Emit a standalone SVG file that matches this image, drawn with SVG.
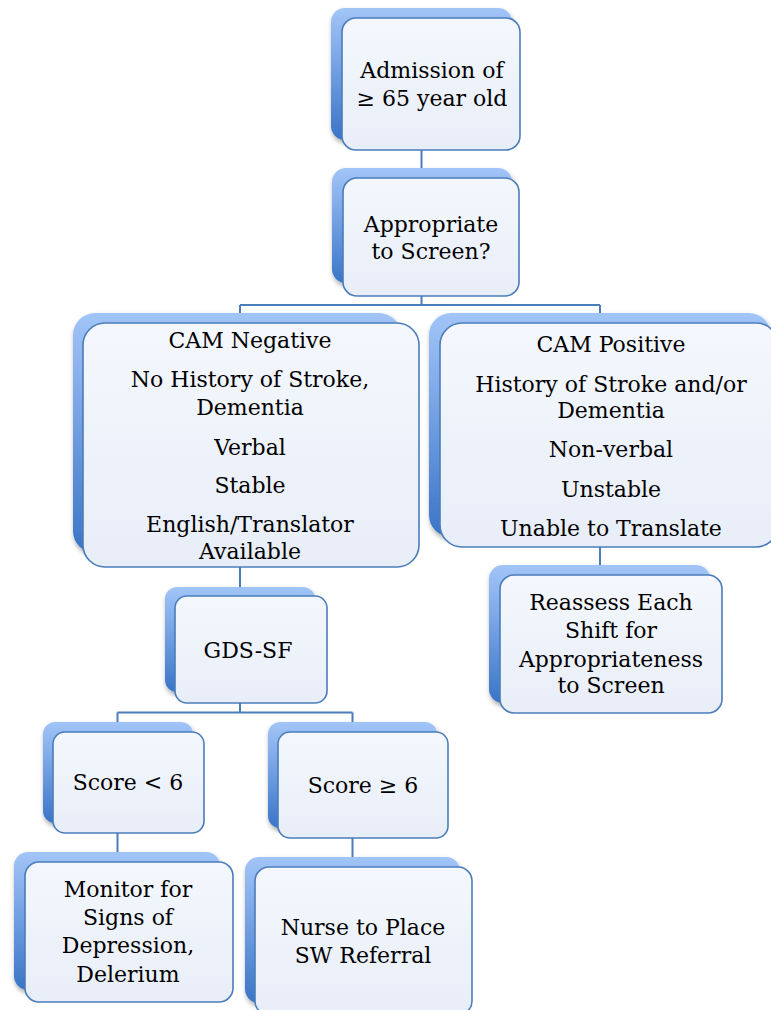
<svg xmlns="http://www.w3.org/2000/svg" width="771" height="1010" viewBox="0 0 771 1010">
<defs>
<linearGradient id="backG" x1="0" y1="0" x2="0" y2="1">
<stop offset="0" stop-color="#A2C5F7"/>
<stop offset="0.35" stop-color="#7FA9E8"/>
<stop offset="1" stop-color="#3A74C6"/>
</linearGradient>
<linearGradient id="frontG" x1="0" y1="0" x2="0" y2="1">
<stop offset="0" stop-color="#F4F7FD"/>
<stop offset="1" stop-color="#E8EEF8"/>
</linearGradient>
<filter id="sh" x="-10%" y="-10%" width="125%" height="130%">
<feDropShadow dx="1" dy="3" stdDeviation="2.5" flood-color="#000" flood-opacity="0.35"/>
</filter>
</defs>
<style>
.back{fill:url(#backG);filter:url(#sh)}
.front{fill:url(#frontG);stroke:#4A7DBA;stroke-width:1.6}
.conn{fill:none;stroke:#4A7DBA;stroke-width:2}
text{font-family:"DejaVu Serif","Liberation Serif",serif;font-size:22px;fill:#000;text-anchor:middle}
</style>
<rect width="771" height="1010" fill="#fff"/>
<g id="connectors">
<path class="conn" d="M421.5,150V178"/>
<path class="conn" d="M421.5,296V305M240,305H600M240,305V313M600,305V313"/>
<path class="conn" d="M240,567V587"/>
<path class="conn" d="M600,547V565"/>
<path class="conn" d="M240,703V712.5M117.5,712.5H352.5M117.5,712.5V722M352.5,712.5V722"/>
<path class="conn" d="M117.5,833V852"/>
<path class="conn" d="M352.5,838V857"/>
</g>
<g id="n-admission">
<rect class="back" x="331" y="8" width="181" height="132" rx="14"/>
<rect class="front" x="342" y="18" width="178" height="132" rx="14"/>
<text x="432" y="78">Admission of</text>
<text x="432" y="106">≥ 65 year old</text>
</g>
<g id="n-appropriate">
<rect class="back" x="332" y="168" width="180" height="115" rx="14"/>
<rect class="front" x="343" y="178" width="176" height="118" rx="14"/>
<text x="431" y="232">Appropriate</text>
<text x="431" y="259">to Screen?</text>
</g>
<g id="n-cam-negative">
<rect class="back" x="73" y="313" width="328" height="240" rx="22"/>
<rect class="front" x="83" y="323" width="336" height="244" rx="22"/>
<text x="250" y="348">CAM Negative</text>
<text x="250" y="387">No History of Stroke,</text>
<text x="250" y="415">Dementia</text>
<text x="250" y="455">Verbal</text>
<text x="250" y="493">Stable</text>
<text x="250" y="532">English/Translator</text>
<text x="250" y="559">Available</text>
</g>
<g id="n-cam-positive">
<rect class="back" x="429" y="313" width="342" height="224" rx="22"/>
<rect class="front" x="440" y="323" width="338" height="224" rx="22"/>
<text x="611" y="352">CAM Positive</text>
<text x="611" y="392">History of Stroke and/or</text>
<text x="611" y="418">Dementia</text>
<text x="611" y="457">Non-verbal</text>
<text x="611" y="497">Unstable</text>
<text x="611" y="536">Unable to Translate</text>
</g>
<g id="n-reassess">
<rect class="back" x="489" y="565" width="221" height="138" rx="14"/>
<rect class="front" x="500" y="575" width="222" height="138" rx="14"/>
<text x="611" y="610">Reassess Each</text>
<text x="611" y="638">Shift for</text>
<text x="611" y="667">Appropriateness</text>
<text x="611" y="693">to Screen</text>
</g>
<g id="n-gds">
<rect class="back" x="165" y="587" width="150" height="105" rx="12"/>
<rect class="front" x="175" y="596" width="152" height="107" rx="12"/>
<text x="248" y="658">GDS-SF</text>
</g>
<g id="n-score-lt">
<rect class="back" x="43" y="722" width="150" height="101" rx="12"/>
<rect class="front" x="53" y="732" width="151" height="101" rx="12"/>
<text x="128" y="790">Score &lt; 6</text>
</g>
<g id="n-score-ge">
<rect class="back" x="268" y="722" width="169" height="106" rx="12"/>
<rect class="front" x="278" y="732" width="170" height="106" rx="12"/>
<text x="363" y="793">Score ≥ 6</text>
</g>
<g id="n-monitor">
<rect class="back" x="14" y="852" width="206" height="138" rx="14"/>
<rect class="front" x="25" y="862" width="208" height="140" rx="14"/>
<text x="128" y="897">Monitor for</text>
<text x="128" y="925">Signs of</text>
<text x="128" y="953">Depression,</text>
<text x="128" y="982">Delerium</text>
</g>
<g id="n-nurse">
<rect class="back" x="245" y="857" width="215" height="146" rx="14"/>
<rect class="front" x="255" y="867" width="217" height="148" rx="14"/>
<text x="363" y="935">Nurse to Place</text>
<text x="363" y="963">SW Referral</text>
</g>
</svg>
